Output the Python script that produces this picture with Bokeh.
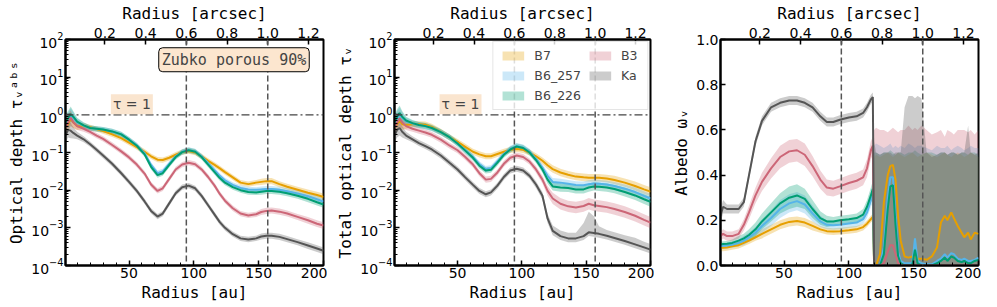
import numpy as np
from bokeh.plotting import figure
from bokeh.layouts import row
from bokeh.models import (Range1d, LinearAxis, FixedTicker, Span, Label, Legend,
                          LegendItem, NumeralTickFormatter)
from bokeh.embed import file_html
from bokeh.resources import INLINE

# ---------------- data ----------------
AU_PER_ARCSEC = 157.0
RING_AU = [94.2, 157.0]          # dashed lines (0.6" and 1.0")
SERIES = ["B7", "B6_257", "B6_226", "B3", "Ka"]
COLORS = {"B7": "#E69F00", "B6_257": "#56B4E9", "B6_226": "#009E73",
          "B3": "#CC6677", "Ka": "#555555"}

X_TICKS = [50, 100, 150, 200]
X_MINOR = [10, 20, 30, 40, 60, 70, 80, 90, 110, 120, 130, 140, 160, 170, 180, 190]
ARCSEC_TICKS = [0.2, 0.4, 0.6, 0.8, 1.0, 1.2]
LOG_TICKS = [1e-4, 1e-3, 1e-2, 1e-1, 1e0, 1e1, 1e2]
ALB_TICKS = [0.0, 0.2, 0.4, 0.6, 0.8, 1.0]

# radius grid for optical depth panels (au)
r_tau = [1, 3, 5, 7, 10, 15, 20, 25, 30, 37,
         44, 50, 56, 62, 67, 72, 76, 81, 86, 91,
         96, 101, 106, 111, 116, 120, 124, 130, 136, 142,
         148, 152, 156, 160, 166, 172, 180, 188, 195, 200]

# log10 absorption optical depth (panel 1)
tau_abs_log = {
    "B7": [-0.35, -0.25, -0.10, -0.20, -0.30, -0.30, -0.33, -0.38, -0.43, -0.52,
           -0.62, -0.74, -0.86, -0.98, -1.10, -1.19, -1.20, -1.14, -1.06, -0.99,
           -0.96, -1.00, -1.10, -1.22, -1.33, -1.42, -1.52, -1.66, -1.80, -1.84,
           -1.80, -1.78, -1.76, -1.76, -1.84, -1.91, -1.99, -2.07, -2.13, -2.18],
    "B6_257": [-0.25, -0.15, -0.02, -0.08, -0.20, -0.29, -0.35, -0.37, -0.39, -0.44,
               -0.52, -0.66, -0.81, -1.02, -1.33, -1.55, -1.50, -1.30, -1.10, -0.98,
               -0.93, -0.97, -1.10, -1.28, -1.47, -1.62, -1.74, -1.86, -1.94, -1.98,
               -1.99, -1.98, -1.97, -1.97, -1.99, -2.03, -2.09, -2.16, -2.24, -2.30],
    "B6_226": [-0.20, -0.10, 0.02, -0.05, -0.18, -0.28, -0.35, -0.37, -0.39, -0.44,
               -0.52, -0.66, -0.82, -1.05, -1.38, -1.60, -1.55, -1.33, -1.12, -0.99,
               -0.94, -0.98, -1.12, -1.32, -1.52, -1.68, -1.80, -1.92, -2.00, -2.05,
               -2.06, -2.04, -2.02, -2.02, -2.04, -2.08, -2.15, -2.23, -2.32, -2.38],
    "B3": [-0.35, -0.20, -0.08, -0.20, -0.30, -0.37, -0.45, -0.55, -0.64, -0.80,
           -0.97, -1.13, -1.32, -1.56, -1.85, -2.02, -1.95, -1.70, -1.45, -1.32,
           -1.27, -1.31, -1.45, -1.65, -1.88, -2.10, -2.28, -2.48, -2.62, -2.67,
           -2.64, -2.58, -2.55, -2.54, -2.57, -2.62, -2.71, -2.80, -2.89, -2.94],
    "Ka": [-0.55, -0.40, -0.42, -0.48, -0.55, -0.65, -0.78, -0.93, -1.08, -1.30,
           -1.55, -1.78, -2.02, -2.30, -2.55, -2.70, -2.62, -2.35, -2.08, -1.92,
           -1.88, -1.95, -2.15, -2.40, -2.65, -2.85, -3.00, -3.17, -3.28, -3.31,
           -3.28, -3.23, -3.21, -3.21, -3.24, -3.30, -3.38, -3.47, -3.55, -3.61],
}
# uncertainty half-width (dex), panel 1, shared by all bands
tau_abs_err = [0.20, 0.20, 0.20, 0.15, 0.10, 0.08, 0.07, 0.07, 0.07, 0.07,
               0.07, 0.07, 0.07, 0.07, 0.07, 0.07, 0.07, 0.07, 0.07, 0.07,
               0.07, 0.07, 0.07, 0.07, 0.07, 0.07, 0.07, 0.07, 0.07, 0.07,
               0.07, 0.08, 0.08, 0.08, 0.08, 0.08, 0.08, 0.09, 0.09, 0.09]

# log10 total optical depth (panel 2)
tau_tot_log = {
    "B7": [-0.35, -0.25, -0.15, -0.25, -0.27, -0.25, -0.25, -0.26, -0.32, -0.45,
           -0.60, -0.72, -0.85, -0.98, -1.05, -1.10, -1.10, -1.04, -0.98, -0.93,
           -0.91, -0.93, -1.00, -1.10, -1.22, -1.34, -1.44, -1.53, -1.59, -1.64,
           -1.66, -1.67, -1.67, -1.67, -1.69, -1.73, -1.80, -1.89, -1.98, -2.04],
    "B6_257": [-0.25, -0.10, 0.00, -0.08, -0.17, -0.23, -0.27, -0.30, -0.35, -0.46,
               -0.60, -0.76, -0.94, -1.12, -1.31, -1.44, -1.42, -1.24, -1.04, -0.90,
               -0.83, -0.87, -0.98, -1.17, -1.40, -1.62, -1.78, -1.80, -1.83, -1.86,
               -1.87, -1.84, -1.82, -1.83, -1.85, -1.89, -1.96, -2.05, -2.15, -2.22],
    "B6_226": [-0.20, -0.05, 0.05, -0.05, -0.15, -0.22, -0.27, -0.30, -0.35, -0.46,
               -0.60, -0.76, -0.95, -1.14, -1.35, -1.48, -1.46, -1.27, -1.06, -0.92,
               -0.84, -0.88, -1.00, -1.20, -1.45, -1.72, -1.90, -1.93, -1.94, -1.98,
               -1.98, -1.93, -1.90, -1.91, -1.93, -1.97, -2.05, -2.14, -2.24, -2.31],
    "B3": [-0.35, -0.20, -0.10, -0.20, -0.30, -0.37, -0.42, -0.47, -0.53, -0.66,
           -0.82, -0.94, -1.12, -1.32, -1.55, -1.72, -1.70, -1.53, -1.30, -1.14,
           -1.08, -1.12, -1.24, -1.45, -1.72, -2.02, -2.22, -2.36, -2.43, -2.46,
           -2.42, -2.36, -2.40, -2.42, -2.45, -2.50, -2.58, -2.68, -2.79, -2.86],
    "Ka": [-0.55, -0.40, -0.35, -0.45, -0.55, -0.65, -0.75, -0.83, -0.92, -1.08,
           -1.28, -1.45, -1.66, -1.86, -2.02, -2.11, -2.06, -1.88, -1.65, -1.48,
           -1.43, -1.48, -1.62, -1.85, -2.15, -2.75, -3.08, -3.22, -3.28, -3.28,
           -3.22, -3.12, -3.14, -3.16, -3.21, -3.27, -3.35, -3.44, -3.52, -3.58],
}
# uncertainty (dex) for panel 2: lower and upper half-widths
tau_tot_err_lo = {
    "B7": [0.20, 0.20, 0.20, 0.15, 0.10, 0.08, 0.08, 0.08, 0.08, 0.08,
           0.08, 0.08, 0.08, 0.08, 0.08, 0.08, 0.08, 0.08, 0.08, 0.08,
           0.08, 0.08, 0.08, 0.08, 0.09, 0.10, 0.10, 0.10, 0.10, 0.10,
           0.10, 0.10, 0.10, 0.10, 0.10, 0.11, 0.11, 0.12, 0.12, 0.12],
    "B6_257": [0.20, 0.20, 0.20, 0.15, 0.10, 0.08, 0.08, 0.08, 0.08, 0.08,
               0.08, 0.08, 0.08, 0.08, 0.08, 0.08, 0.08, 0.08, 0.08, 0.08,
               0.08, 0.08, 0.08, 0.08, 0.09, 0.10, 0.10, 0.10, 0.10, 0.10,
               0.10, 0.10, 0.10, 0.10, 0.10, 0.11, 0.11, 0.12, 0.12, 0.12],
    "B6_226": [0.20, 0.20, 0.20, 0.15, 0.10, 0.08, 0.08, 0.08, 0.08, 0.08,
               0.08, 0.08, 0.08, 0.08, 0.08, 0.08, 0.08, 0.08, 0.08, 0.08,
               0.08, 0.08, 0.08, 0.08, 0.09, 0.11, 0.11, 0.11, 0.11, 0.11,
               0.11, 0.11, 0.11, 0.11, 0.11, 0.11, 0.12, 0.12, 0.13, 0.13],
    "B3": [0.20, 0.20, 0.20, 0.15, 0.10, 0.08, 0.08, 0.08, 0.08, 0.08,
           0.08, 0.08, 0.08, 0.08, 0.08, 0.08, 0.08, 0.08, 0.08, 0.08,
           0.08, 0.08, 0.08, 0.09, 0.10, 0.13, 0.15, 0.15, 0.15, 0.15,
           0.15, 0.15, 0.15, 0.15, 0.15, 0.15, 0.15, 0.15, 0.15, 0.15],
    "Ka": [0.20, 0.20, 0.20, 0.15, 0.10, 0.08, 0.08, 0.08, 0.08, 0.08,
           0.08, 0.08, 0.08, 0.08, 0.08, 0.08, 0.08, 0.08, 0.08, 0.08,
           0.08, 0.08, 0.08, 0.09, 0.10, 0.12, 0.12, 0.10, 0.10, 0.10,
           0.10, 0.10, 0.10, 0.10, 0.10, 0.10, 0.10, 0.10, 0.10, 0.10],
}
tau_tot_err_hi = dict(tau_tot_err_lo)
tau_tot_err_hi["Ka"] = [0.20, 0.20, 0.20, 0.15, 0.10, 0.08, 0.08, 0.08, 0.08, 0.08,
                        0.08, 0.08, 0.08, 0.08, 0.08, 0.08, 0.08, 0.08, 0.08, 0.08,
                        0.08, 0.08, 0.08, 0.09, 0.10, 0.12, 0.14, 0.15, 0.15, 0.15,
                        0.35, 0.55, 0.45, 0.20, 0.15, 0.15, 0.15, 0.18, 0.15, 0.15]

# albedo panel (3)
r_alb = [1, 3, 6, 10, 15, 19, 23, 28, 33, 40,
         47, 54, 60, 66, 72, 78, 83, 88, 93, 100,
         106, 111, 114, 117, 118.5, 119.5, 121, 124, 127, 130,
         132, 134, 136, 138, 140, 143, 146, 149, 151, 153,
         156, 160, 164, 168, 171, 174, 176, 179, 181, 184,
         187, 189, 192, 194, 197, 200]
albedo = {
    "B7": [0.078, 0.078, 0.08, 0.085, 0.09, 0.10, 0.11, 0.125, 0.14, 0.16,
           0.18, 0.193, 0.197, 0.19, 0.175, 0.16, 0.152, 0.15, 0.152, 0.156,
           0.16, 0.17, 0.185, 0.205, 0.215, 0.0, 0.0, 0.05, 0.28, 0.40,
           0.44, 0.445, 0.38, 0.22, 0.11, 0.04, 0.035, 0.04, 0.04, 0.03,
           0.03, 0.025, 0.04, 0.08, 0.19, 0.22, 0.20, 0.235, 0.21, 0.175,
           0.145, 0.125, 0.145, 0.115, 0.145, 0.14],
    "B6_257": [0.085, 0.087, 0.088, 0.092, 0.10, 0.11, 0.125, 0.145, 0.175, 0.21,
               0.25, 0.275, 0.285, 0.27, 0.23, 0.195, 0.18, 0.178, 0.18, 0.186,
               0.19, 0.205, 0.235, 0.29, 0.31, 0.0, 0.0, 0.0, 0.08, 0.30,
               0.39, 0.39, 0.22, 0.06, 0.02, 0.01, 0.01, 0.01, 0.12, 0.02,
               0.01, 0.005, 0.005, 0.02, 0.03, 0.05, 0.035, 0.055, 0.05, 0.03,
               0.025, 0.03, 0.02, 0.02, 0.025, 0.035],
    "B6_226": [0.093, 0.095, 0.096, 0.10, 0.11, 0.12, 0.135, 0.16, 0.195, 0.235,
               0.275, 0.30, 0.31, 0.295, 0.25, 0.21, 0.195, 0.195, 0.20, 0.205,
               0.21, 0.225, 0.26, 0.31, 0.34, 0.0, 0.0, 0.0, 0.05, 0.25,
               0.35, 0.355, 0.18, 0.04, 0.01, 0.0, 0.0, 0.005, 0.07, 0.01,
               0.0, 0.0, 0.0, 0.01, 0.02, 0.035, 0.02, 0.04, 0.035, 0.02,
               0.015, 0.02, 0.01, 0.01, 0.02, 0.025],
    "B3": [0.13, 0.14, 0.13, 0.13, 0.14, 0.18, 0.235, 0.31, 0.37, 0.43,
           0.48, 0.505, 0.51, 0.49, 0.44, 0.38, 0.345, 0.34, 0.35, 0.365,
           0.375, 0.39, 0.43, 0.51, 0.53, 0.0, 0.0, 0.0, 0.01, 0.06,
           0.09, 0.09, 0.05, 0.01, 0.0, 0.0, 0.0, 0.0, 0.0, 0.0,
           0.0, 0.0, 0.0, 0.0, 0.0, 0.0, 0.0, 0.0, 0.0, 0.0,
           0.0, 0.0, 0.0, 0.0, 0.0, 0.0],
    "Ka": [0.22, 0.26, 0.25, 0.25, 0.25, 0.28, 0.40, 0.55, 0.64, 0.70,
           0.72, 0.73, 0.73, 0.72, 0.70, 0.66, 0.635, 0.635, 0.645, 0.655,
           0.66, 0.675, 0.70, 0.735, 0.745, 0.0, 0.0, 0.0, 0.0, 0.0,
           0.0, 0.0, 0.0, 0.0, 0.0, 0.0, 0.0, 0.0, 0.0, 0.0,
           0.0, 0.0, 0.0, 0.0, 0.0, 0.0, 0.0, 0.0, 0.0, 0.0,
           0.0, 0.0, 0.0, 0.0, 0.0, 0.0],
}
# albedo half-width inside 119 au (first 25 grid points)
albedo_err_in = {
    "B7": [0.015, 0.015, 0.015, 0.015, 0.015, 0.015, 0.015, 0.015, 0.02, 0.02,
           0.02, 0.02, 0.02, 0.02, 0.02, 0.015, 0.015, 0.015, 0.015, 0.015,
           0.015, 0.015, 0.015, 0.015, 0.015],
    "B6_257": [0.012, 0.012, 0.012, 0.015, 0.015, 0.02, 0.02, 0.025, 0.03, 0.035,
               0.04, 0.04, 0.04, 0.04, 0.035, 0.025, 0.02, 0.02, 0.02, 0.02,
               0.02, 0.02, 0.025, 0.03, 0.03],
    "B6_226": [0.012, 0.012, 0.012, 0.015, 0.02, 0.02, 0.025, 0.03, 0.035, 0.04,
               0.045, 0.05, 0.05, 0.045, 0.04, 0.03, 0.025, 0.02, 0.02, 0.02,
               0.02, 0.025, 0.03, 0.035, 0.035],
    "B3": [0.02, 0.02, 0.02, 0.02, 0.02, 0.025, 0.03, 0.035, 0.04, 0.045,
           0.05, 0.05, 0.05, 0.05, 0.045, 0.04, 0.035, 0.035, 0.035, 0.035,
           0.035, 0.035, 0.04, 0.04, 0.04],
    "Ka": [0.03, 0.03, 0.02, 0.02, 0.02, 0.02, 0.02, 0.02, 0.02, 0.02,
           0.02, 0.02, 0.02, 0.02, 0.02, 0.02, 0.02, 0.02, 0.02, 0.02,
           0.02, 0.02, 0.02, 0.02, 0.02],
}
# upper envelope of the albedo uncertainty beyond 119 au (last 31 grid points)
albedo_env_out = {
    "B7": [0.48, 0.49, 0.48, 0.49, 0.50, 0.49, 0.48, 0.49, 0.50, 0.49,
           0.48, 0.49, 0.50, 0.49, 0.48, 0.49, 0.50, 0.49, 0.48, 0.49,
           0.50, 0.49, 0.48, 0.49, 0.50, 0.49, 0.48, 0.49, 0.50, 0.49, 0.48],
    "B6_257": [0.53, 0.54, 0.53, 0.52, 0.53, 0.54, 0.52, 0.53, 0.52, 0.53,
               0.52, 0.54, 0.53, 0.52, 0.53, 0.53, 0.52, 0.51, 0.53, 0.52,
               0.52, 0.53, 0.51, 0.52, 0.53, 0.52, 0.51, 0.52, 0.53, 0.52, 0.52],
    "B6_226": [0.50, 0.50, 0.49, 0.50, 0.50, 0.51, 0.50, 0.49, 0.50, 0.50,
               0.49, 0.50, 0.50, 0.51, 0.50, 0.49, 0.50, 0.50, 0.49, 0.50,
               0.50, 0.49, 0.50, 0.50, 0.49, 0.50, 0.50, 0.49, 0.50, 0.50, 0.49],
    "B3": [0.60, 0.61, 0.60, 0.60, 0.59, 0.60, 0.61, 0.60, 0.59, 0.60,
           0.60, 0.62, 0.60, 0.61, 0.60, 0.62, 0.60, 0.58, 0.59, 0.60,
           0.57, 0.60, 0.59, 0.58, 0.60, 0.60, 0.60, 0.59, 0.60, 0.58, 0.60],
    "Ka": [0.55, 0.50, 0.49, 0.50, 0.50, 0.50, 0.49, 0.50, 0.50, 0.50,
           0.70, 0.75, 0.75, 0.74, 0.75, 0.74, 0.50, 0.48, 0.49, 0.50,
           0.50, 0.49, 0.50, 0.50, 0.49, 0.50, 0.50, 0.62, 0.50, 0.49, 0.50],
}

# ---------------- styling helpers ----------------
FRAME_H = 226
TICK_FONT = "DejaVu Sans"
LABEL_FONT = "DejaVu Sans Mono"


def style_axis(ax):
    ax.axis_line_width = 2
    ax.axis_line_color = "black"
    ax.major_tick_in = 5
    ax.major_tick_out = 0
    ax.minor_tick_in = 3
    ax.minor_tick_out = 0
    ax.major_tick_line_width = 1.5
    ax.minor_tick_line_width = 1
    ax.major_tick_line_color = "black"
    ax.minor_tick_line_color = "black"
    ax.major_label_text_font = TICK_FONT
    ax.major_label_text_font_size = "14px"
    ax.major_label_text_color = "black"
    ax.major_label_standoff = 2
    ax.axis_label_text_font = LABEL_FONT
    ax.axis_label_text_font_size = "16px"
    ax.axis_label_text_font_style = "normal"
    ax.axis_label_text_color = "black"
    ax.axis_label_standoff = 2


def make_fig(frame_w, left, right, ylabel, ylog):
    kw = dict(frame_width=frame_w, frame_height=FRAME_H, output_backend="svg",
              toolbar_location=None, title=None,
              x_range=Range1d(1, 200), min_border_left=left, min_border_right=right,
              min_border_top=30, min_border_bottom=30, x_axis_label="Radius [au]",
              y_axis_label=ylabel)
    if ylog:
        kw.update(y_axis_type="log", y_range=Range1d(1e-4, 1e2))
    else:
        kw.update(y_range=Range1d(0, 1))
    p = figure(**kw)
    p.grid.visible = False
    p.outline_line_color = "black"
    p.outline_line_width = 2
    p.outline_line_alpha = 1
    p.background_fill_color = "white"
    p.border_fill_color = "white"

    p.xaxis.ticker = FixedTicker(ticks=X_TICKS, minor_ticks=X_MINOR)
    if ylog:
        minors = [m * t for t in LOG_TICKS[:-1] for m in range(2, 10)]
        p.yaxis.ticker = FixedTicker(ticks=LOG_TICKS, minor_ticks=minors)
    else:
        p.yaxis.ticker = FixedTicker(ticks=ALB_TICKS)
        p.yaxis.formatter = NumeralTickFormatter(format="0.0")

    p.extra_x_ranges = {"arcsec": Range1d(1 / AU_PER_ARCSEC, 200 / AU_PER_ARCSEC)}
    top = LinearAxis(x_range_name="arcsec", axis_label="Radius [arcsec]",
                     ticker=FixedTicker(ticks=ARCSEC_TICKS),
                     formatter=NumeralTickFormatter(format="0.0"))
    p.add_layout(top, "above")
    for ax in p.xaxis + p.yaxis:
        style_axis(ax)

    for loc in RING_AU:
        p.add_layout(Span(location=loc, dimension="height", line_color="#555555",
                          line_dash="6 3", line_width=1.5))
    return p


def tau_panel(p, logs, err_lo, err_hi):
    bands = {}
    x = np.array(r_tau, dtype=float)
    for s in SERIES:
        lg = np.array(logs[s])
        lo = np.array(err_lo[s]) if isinstance(err_lo, dict) else np.array(err_lo)
        hi = np.array(err_hi[s]) if isinstance(err_hi, dict) else np.array(err_hi)
        bands[s] = p.varea(x=x, y1=10 ** (lg - lo), y2=10 ** (lg + hi),
                           fill_color=COLORS[s], fill_alpha=0.3)
    for s in SERIES:
        p.line(x, 10 ** np.array(logs[s]), line_color=COLORS[s], line_width=2)
    p.add_layout(Span(location=1.0, dimension="width", line_color="#444444",
                      line_dash="8 3 2 3", line_width=1.3))
    p.add_layout(Label(x=36, y=1.9, text="τ = 1", text_font=TICK_FONT,
                       text_font_size="14px", text_baseline="middle",
                       background_fill_color="#FAE5CF", padding=2))
    return bands


# ---------------- panel 1 ----------------
p1 = make_fig(258, 65, 4, "Optical depth τᵥᵃᵇˢ", True)
tau_panel(p1, tau_abs_log, tau_abs_err, tau_abs_err)
p1.add_layout(Label(x=189, y=29, text="Zubko porous 90%", text_font=LABEL_FONT,
                    text_font_size="15px", text_align="right", text_baseline="middle",
                    background_fill_color="#FCE6CF", border_line_color="black",
                    border_line_width=1, padding=3, border_radius=4))

# ---------------- panel 2 ----------------
p2 = make_fig(256, 67, 4, "Total optical depth τᵥ", True)
bands2 = tau_panel(p2, tau_tot_log, tau_tot_err_lo, tau_tot_err_hi)
legend = Legend(items=[LegendItem(label=s, renderers=[bands2[s]]) for s in SERIES],
                location="top_right", ncols=2)
legend.label_text_font = TICK_FONT
legend.label_text_font_size = "12.5px"
legend.glyph_width = 27
legend.glyph_height = 11
legend.label_standoff = 8
legend.spacing = 5
legend.padding = 6
legend.margin = 2
legend.border_line_color = "#cccccc"
legend.border_line_width = 1
legend.background_fill_alpha = 0.8
p2.add_layout(legend)

# ---------------- panel 3 ----------------
p3 = make_fig(258, 66, 3, "Albedo ωᵥ", False)
xa = np.array(r_alb, dtype=float)
n_in = len(albedo_err_in["Ka"])
for s in SERIES:
    v = np.array(albedo[s])
    e = np.array(albedo_err_in[s])
    lower = np.concatenate([np.clip(v[:n_in] - e, 0, None), np.zeros(len(v) - n_in)])
    upper = np.concatenate([v[:n_in] + e, np.array(albedo_env_out[s])])
    p3.varea(x=xa, y1=lower, y2=upper, fill_color=COLORS[s], fill_alpha=0.3)
for s in SERIES:
    p3.line(xa, albedo[s], line_color=COLORS[s], line_width=2)

layout = row(p1, p2, p3)
open("out.html", "w").write(file_html(layout, INLINE))
